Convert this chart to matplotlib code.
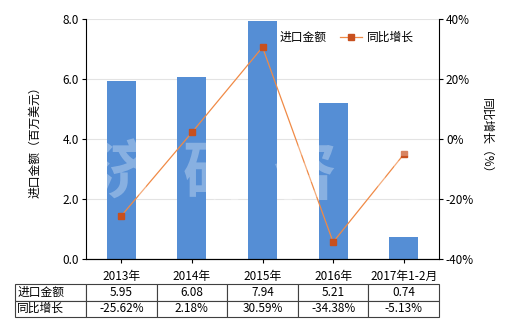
import matplotlib.pyplot as plt
import numpy as np

plt.rcParams['font.family'] = ['Noto Sans CJK SC', 'DejaVu Sans']
plt.rcParams['font.size'] = 8.5

categories = ["2013年", "2014年", "2015年", "2016年", "2017年1-2月"]
import_values = [5.95, 6.08, 7.94, 5.21, 0.74]
growth_pct = [-25.62, 2.18, 30.59, -34.38, -5.13]
import_labels = ["5.95", "6.08", "7.94", "5.21", "0.74"]
growth_labels = ["-25.62%", "2.18%", "30.59%", "-34.38%", "-5.13%"]
left_ticks = [0.0, 2.0, 4.0, 6.0, 8.0]
right_ticks = [-40, -20, 0, 20, 40]

bar_color = "#558ED5"
line_color = "#F08A46"
marker_color = "#C8501E"

fig = plt.figure(figsize=(5.2, 3.3), dpi=100)
ax = fig.add_axes([86 / 520, 1 - 259 / 330, 353 / 520, 240 / 330])
x = np.arange(len(categories))

ax.set_axisbelow(True)
ax.grid(axis="y", color="#E3E3E3", linewidth=0.8)
bars = ax.bar(x, import_values, width=0.41, color=bar_color, label="进口金额", zorder=2)
ax.set_xlim(-0.5, len(categories) - 0.5)
ax.set_ylim(0, 8)
ax.set_yticks(left_ticks)
ax.set_yticklabels([f"{v:.1f}" for v in left_ticks])
ax.set_xticks(x)
ax.set_xticklabels(categories)
ax.tick_params(axis="both", length=3, width=0.8, colors="black", pad=2)
ax.tick_params(axis="x", pad=5)
ax.set_ylabel("进口金额（百万美元）", labelpad=15)
ax.spines["top"].set_visible(False)
ax.spines["right"].set_visible(False)

ax2 = ax.twinx()
line, = ax2.plot(x, growth_pct, color=line_color, linewidth=0.9, marker="s",
                 markersize=4.5, markerfacecolor=marker_color,
                 markeredgecolor=marker_color, label="同比增长", zorder=3)
ax2.set_ylim(-40, 40)
ax2.set_yticks(right_ticks)
ax2.set_yticklabels([f"{v}%" for v in right_ticks])
ax2.tick_params(axis="y", length=3, width=0.8, pad=2)
ax2.set_ylabel("同比增长（%）", rotation=-90, labelpad=14)
ax2.spines["top"].set_visible(False)
ax2.spines["left"].set_visible(False)

# watermark
for cx, ch in zip([125, 215, 305, 400], "济研咨询"):
    fig.text(cx / 520, 1 - 175 / 330, ch, fontsize=46, color="white",
             alpha=0.3, ha="center", va="center", fontweight="bold", zorder=10)

leg = fig.legend(handles=[bars, line], loc="upper left",
                 bbox_to_anchor=(252 / 520, 1 - 31 / 330), ncol=2, frameon=False,
                 handlelength=1.8, columnspacing=1.2, handletextpad=0.5,
                 borderaxespad=0, borderpad=0)

cell_text = [["进口金额"] + import_labels, ["同比增长"] + growth_labels]
first_w = (86 - 15) / 353
col_w = [first_w / (first_w + 1)] + [1 / (first_w + 1) / 5] * 5
table = ax.table(cellText=cell_text, cellLoc="center", colWidths=col_w,
                 bbox=[-first_w, -0.2417, 1 + first_w, 0.1375])
table.auto_set_font_size(False)
table.set_fontsize(8.5)
for (r, c), cell in table.get_celld().items():
    cell.set_edgecolor("#404040")
    cell.set_linewidth(0.8)
    if c == 0:
        cell.get_text().set_ha("left")
        cell.PAD = 0.03

fig.savefig("out.png", dpi=100)
